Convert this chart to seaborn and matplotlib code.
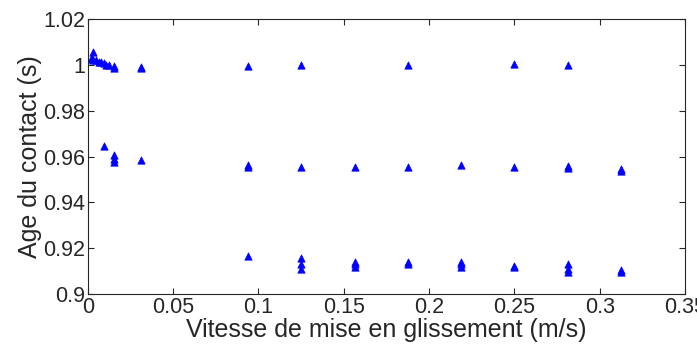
import matplotlib
matplotlib.use("Agg")
import matplotlib.pyplot as plt
import seaborn as sns
import pandas as pd

# --- données ---
# groupe haut (~1.0 s)
vitesse_haut = [0.0016, 0.0024, 0.0031, 0.0031, 0.0047, 0.0063, 0.0078, 0.0094, 0.0109,
                0.0125, 0.0156, 0.0156, 0.0313, 0.0313, 0.0938, 0.125, 0.1875, 0.25, 0.2813]
age_haut = [1.0025, 1.003, 1.0058, 1.002, 1.002, 1.0015, 1.0012, 1.001, 1.0002,
            1.0, 0.9995, 0.9988, 0.9993, 0.9988, 0.9995, 0.9998, 0.9999, 1.0003, 0.9998]

# groupe milieu (~0.955 s)
vitesse_milieu = [0.0094, 0.0156, 0.0156, 0.0156, 0.0313, 0.0938, 0.0938, 0.125, 0.1563,
                  0.1875, 0.2188, 0.25, 0.2813, 0.2813, 0.3125, 0.3125]
age_milieu = [0.9645, 0.9605, 0.9590, 0.9575, 0.9585, 0.9562, 0.9555, 0.9555, 0.9555,
              0.9553, 0.9565, 0.9555, 0.9558, 0.9550, 0.9546, 0.9538]

# groupe bas (~0.912 s)
vitesse_bas = [0.0938, 0.125, 0.125, 0.125, 0.1563, 0.1563, 0.1563, 0.1875, 0.1875,
               0.2188, 0.2188, 0.2188, 0.25, 0.25, 0.2813, 0.2813, 0.2813, 0.3125, 0.3125]
age_bas = [0.9168, 0.9158, 0.9132, 0.9108, 0.9142, 0.9130, 0.9118, 0.9140, 0.9132,
           0.9142, 0.9130, 0.9120, 0.9125, 0.9118, 0.9130, 0.9112, 0.9098, 0.9105, 0.9095]

df = pd.DataFrame({
    "vitesse": vitesse_haut + vitesse_milieu + vitesse_bas,
    "age": age_haut + age_milieu + age_bas,
})

sns.set_style("white")
plt.rcParams['font.family'] = ['Liberation Sans', 'DejaVu Sans']

fig = plt.figure(figsize=(6.97, 3.54), dpi=100)
ax = fig.add_axes([0.126, 0.169, 0.857, 0.777])

sns.scatterplot(data=df, x="vitesse", y="age", marker="^", color="#0000ff",
                s=28, edgecolor="#0000ff", linewidth=0.5, ax=ax)

ax.set_xlim(0, 0.35)
ax.set_ylim(0.9, 1.02)
ax.set_xticks([0, 0.05, 0.1, 0.15, 0.2, 0.25, 0.3, 0.35])
ax.set_xticklabels(["0", "0.05", "0.1", "0.15", "0.2", "0.25", "0.3", "0.35"])
ax.set_yticks([0.9, 0.92, 0.94, 0.96, 0.98, 1.0, 1.02])
ax.set_yticklabels(["0.9", "0.92", "0.94", "0.96", "0.98", "1", "1.02"])
ax.tick_params(direction="in", length=4, width=0.8, labelsize=15.5, colors="#262626",
               top=True, right=True, bottom=True, left=True, pad=2)
for sp in ax.spines.values():
    sp.set_color("#262626")
    sp.set_linewidth(0.8)
    sp.set_visible(True)

ax.set_xlabel("Vitesse de mise en glissement (m/s)", fontsize=18, labelpad=0)
ax.set_ylabel("Age du contact (s)", fontsize=18, labelpad=1)

fig.savefig("out.png", dpi=100)
